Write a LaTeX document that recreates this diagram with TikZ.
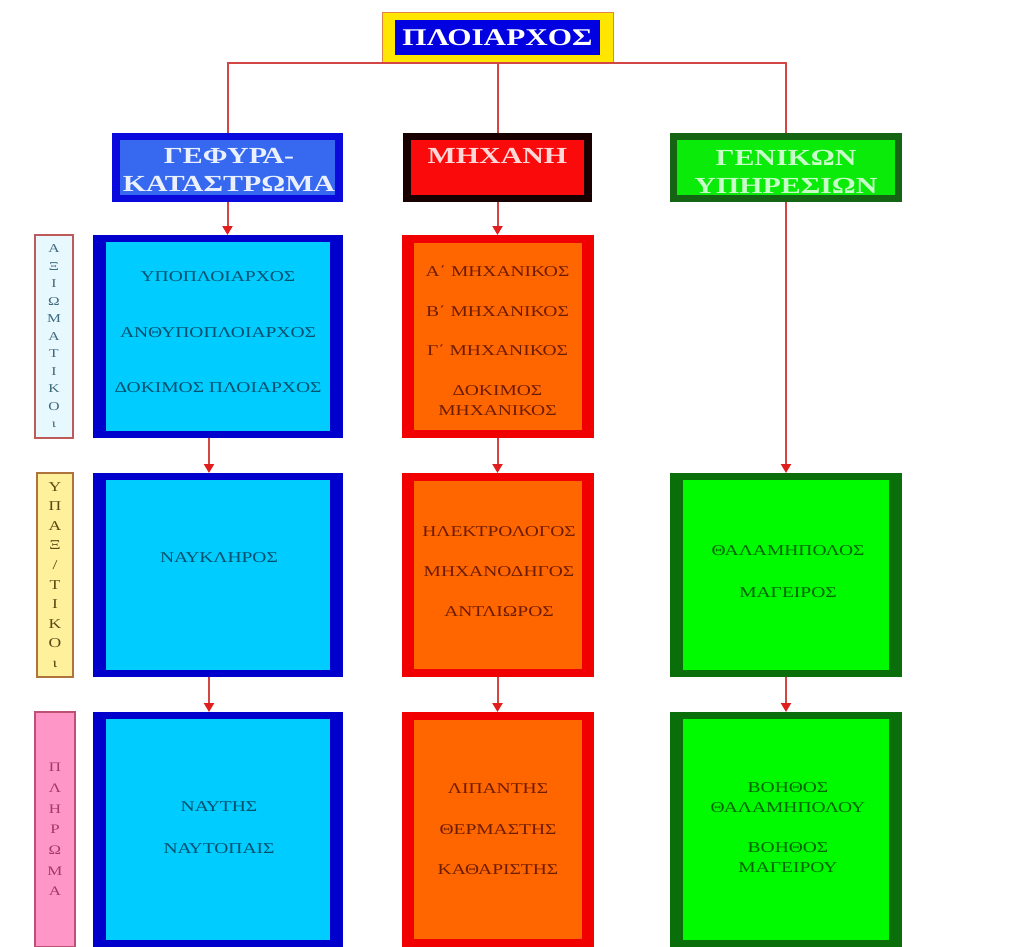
\documentclass[tikz,border=0pt]{standalone}
\usepackage{fontspec}
\setmainfont{Liberation Serif}[FakeStretch=1.3]
\usetikzlibrary{arrows.meta}
\definecolor{linered}{RGB}{210,70,70}
\definecolor{arrred}{RGB}{225,30,30}
\definecolor{capyel}{RGB}{255,230,0}
\definecolor{capedge}{RGB}{225,130,70}
\definecolor{capblue}{RGB}{0,0,225}
\definecolor{hbo}{RGB}{10,10,220}
\definecolor{hbi}{RGB}{55,105,240}
\definecolor{hmo}{RGB}{25,0,0}
\definecolor{hmi}{RGB}{250,10,10}
\definecolor{hgo}{RGB}{20,100,20}
\definecolor{hgi}{RGB}{10,235,10}
\definecolor{bbo}{RGB}{0,0,205}
\definecolor{bbi}{RGB}{0,204,255}
\definecolor{bbt}{RGB}{0,80,110}
\definecolor{boo}{RGB}{240,0,0}
\definecolor{boi}{RGB}{255,102,0}
\definecolor{bot}{RGB}{110,28,0}
\definecolor{bgo}{RGB}{10,110,10}
\definecolor{bgi}{RGB}{0,250,0}
\definecolor{bgt}{RGB}{0,100,0}
\definecolor{laf}{RGB}{232,248,255}
\definecolor{lae}{RGB}{190,90,90}
\definecolor{lat}{RGB}{60,105,125}
\definecolor{lbf}{RGB}{255,240,155}
\definecolor{lbe}{RGB}{175,115,60}
\definecolor{lbt}{RGB}{95,70,20}
\definecolor{lcf}{RGB}{255,150,200}
\definecolor{lce}{RGB}{190,80,115}
\definecolor{lct}{RGB}{165,55,105}
\definecolor{h1txt}{RGB}{235,240,255}
\definecolor{h2txt}{RGB}{255,215,215}
\definecolor{h3txt}{RGB}{200,255,200}
\tikzset{
  framed/.style n args={4}{fill=#1, draw=none, inner sep=0pt, outer sep=0pt,
    path picture={\fill[#2] ([shift={(#3,-#4)}]path picture bounding box.north west)
      rectangle ([shift={(-#3,#4)}]path picture bounding box.south east);}},
  hdrtext/.style={font=\bfseries\fontsize{23}{28}\selectfont, align=center, inner sep=0pt, text=#1},
  btext/.style={font=\fontsize{15}{20}\selectfont, align=center, inner sep=0pt, text=#1},
  sidelab/.style n args={3}{draw=#2, fill=#1, line width=1.2pt, inner sep=0pt, outer sep=0pt, text=#3, align=center},
  conn/.style={draw=linered, line width=2pt},
  arr/.style={conn, -{Triangle[length=9pt,width=10pt,fill=arrred,color=arrred]}},
}
\begin{document}
\begin{tikzpicture}[x=1pt,y=-1pt]
\useasboundingbox[fill=white] (0,0) rectangle (1018,947);
% captain
\node[framed={capyel}{capblue}{13pt}{7.5pt}, draw=capedge, line width=1pt, minimum width=231pt, minimum height=50pt] (cap) at (497.5,38) {};
\node[hdrtext=white, font=\bfseries\fontsize{24}{30}\selectfont] (capt) at (497.5,38) {ΠΛΟΙΑΡΧΟΣ};
% headers
\node[framed={hbo}{hbi}{8pt}{7pt}, minimum width=231pt, minimum height=69pt] (h1) at (227.5,167.5) {};
\node[framed={hmo}{hmi}{8pt}{7pt}, minimum width=189pt, minimum height=69pt] (h2) at (497.5,167.5) {};
\node[framed={hgo}{hgi}{7pt}{7pt}, minimum width=232pt, minimum height=69pt] (h3) at (786,167.5) {};
\node[hdrtext=h1txt] (h1t) at (229,170) {ΓΕΦΥΡΑ-\\ΚΑΤΑΣΤΡΩΜΑ};
\node[hdrtext=h2txt] (h2t) at (497.5,156) {ΜΗΧΑΝΗ};
\node[hdrtext=h3txt] (h3t) at (786,171.5) {ΓΕΝΙΚΩΝ\\ΥΠΗΡΕΣΙΩΝ};
% side labels
\node[sidelab={laf}{lae}{lat}, minimum width=38pt, minimum height=203pt, font=\fontsize{12}{17.5}\selectfont] (la) at (54,336.5) {Α\\Ξ\\Ι\\Ω\\Μ\\Α\\Τ\\Ι\\Κ\\Ο\\ι};
\node[sidelab={lbf}{lbe}{lbt}, minimum width=36pt, minimum height=204pt, font=\fontsize{13.5}{19.6}\selectfont] (lb) at (55,575) {Υ\\Π\\Α\\Ξ\\/\\Τ\\Ι\\Κ\\Ο\\ι};
\node[sidelab={lcf}{lce}{lct}, minimum width=40pt, minimum height=235pt, font=\fontsize{13}{20.7}\selectfont] (lc) at (55,829.5) {Π\\Λ\\Η\\Ρ\\Ω\\Μ\\Α};
% body boxes
\node[framed={bbo}{bbi}{13pt}{7pt}, minimum width=250pt, minimum height=203pt] (b11) at (218,336.5) {};
\node[framed={bbo}{bbi}{13pt}{7pt}, minimum width=250pt, minimum height=204pt] (b21) at (218,575) {};
\node[framed={bbo}{bbi}{13pt}{7pt}, minimum width=250pt, minimum height=235pt] (b31) at (218,829.5) {};
\node[framed={boo}{boi}{12pt}{8pt}, minimum width=192pt, minimum height=203pt] (b12) at (497.5,336.5) {};
\node[framed={boo}{boi}{12pt}{8pt}, minimum width=192pt, minimum height=204pt] (b22) at (497.5,575) {};
\node[framed={boo}{boi}{12pt}{8pt}, minimum width=192pt, minimum height=235pt] (b32) at (497.5,829.5) {};
\node[framed={bgo}{bgi}{13pt}{7pt}, minimum width=232pt, minimum height=204pt] (b23) at (786,575) {};
\node[framed={bgo}{bgi}{13pt}{7pt}, minimum width=232pt, minimum height=235pt] (b33) at (786,829.5) {};
% body texts
\node[btext=bbt] (t11) at (218,332.5) {ΥΠΟΠΛΟΙΑΡΧΟΣ\\[35.5pt]ΑΝΘΥΠΟΠΛΟΙΑΡΧΟΣ\\[35.5pt]ΔΟΚΙΜΟΣ ΠΛΟΙΑΡΧΟΣ};
\node[btext=bot] (t12) at (497.5,341) {Α΄ ΜΗΧΑΝΙΚΟΣ\\[20pt]Β΄ ΜΗΧΑΝΙΚΟΣ\\[19pt]Γ΄ ΜΗΧΑΝΙΚΟΣ\\[20pt]ΔΟΚΙΜΟΣ\\ΜΗΧΑΝΙΚΟΣ};
\node[btext=bbt] (t21) at (219,558) {ΝΑΥΚΛΗΡΟΣ};
\node[btext=bot] (t22) at (499,572) {ΗΛΕΚΤΡΟΛΟΓΟΣ\\[20pt]ΜΗΧΑΝΟΔΗΓΟΣ\\[20pt]ΑΝΤΛΙΩΡΟΣ};
\node[btext=bgt] (t23) at (788,572) {ΘΑΛΑΜΗΠΟΛΟΣ\\[22pt]ΜΑΓΕΙΡΟΣ};
\node[btext=bbt] (t31) at (219,828) {ΝΑΥΤΗΣ\\[22pt]ΝΑΥΤΟΠΑΙΣ};
\node[btext=bot] (t32) at (498,829.5) {ΛΙΠΑΝΤΗΣ\\[20.5pt]ΘΕΡΜΑΣΤΗΣ\\[20.5pt]ΚΑΘΑΡΙΣΤΗΣ};
\node[btext=bgt] (t33) at (788,828) {ΒΟΗΘΟΣ\\ΘΑΛΑΜΗΠΟΛΟΥ\\[20pt]ΒΟΗΘΟΣ\\ΜΑΓΕΙΡΟΥ};
% connectors
\draw[conn] (cap.south) -| (h1.north);
\draw[conn] (cap.south) -| (h3.north);
\draw[conn] (cap.south) -- (h2.north);
\draw[arr] (h1.south) -- (h1.south |- b11.north);
\draw[arr] (h2.south) -- (b12.north);
\draw[arr] (h3.south) -- (h3.south |- b23.north);
\coordinate (xa) at (209,0);
\draw[arr] (b11.south -| xa) -- (b21.north -| xa);
\draw[arr] (b21.south -| xa) -- (b31.north -| xa);
\draw[arr] (b12.south) -- (b22.north);
\draw[arr] (b22.south) -- (b32.north);
\draw[arr] (b23.south) -- (b33.north);
\end{tikzpicture}
\end{document}
